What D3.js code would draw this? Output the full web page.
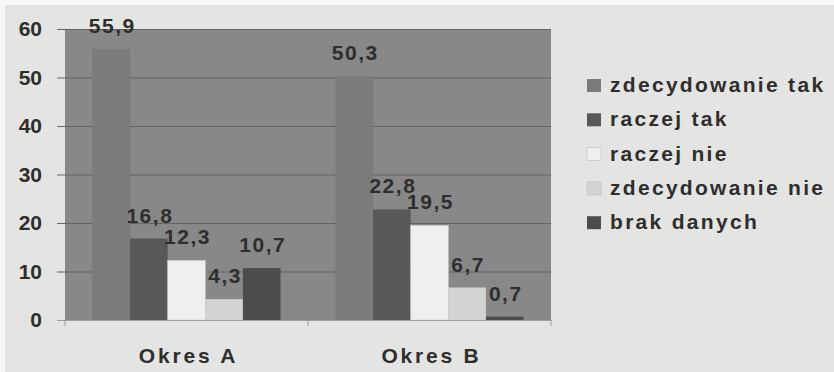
<!DOCTYPE html>
<html>
<head>
<meta charset="utf-8">
<script src="https://cdn.jsdelivr.net/npm/d3@7"></script>
<style>
  html, body { margin: 0; padding: 0; background: #f7f7f5; }
  svg { display: block; }
  text { font-family: "Liberation Sans", Arial, sans-serif; font-weight: bold; fill: #2e2e2e; }
</style>
</head>
<body>
<svg id="chart" width="834" height="372"></svg>
<script>
// Survey answers per period (percent)
const periods = ["Okres A", "Okres B"];
const answers = ["zdecydowanie tak", "raczej tak", "raczej nie", "zdecydowanie nie", "brak danych"];
const valuesA = [55.9, 16.8, 12.3, 4.3, 10.7];
const valuesB = [50.3, 22.8, 19.5, 6.7, 0.7];
const valueLabelsA = ["55,9", "16,8", "12,3", "4,3", "10,7"];
const valueLabelsB = ["50,3", "22,8", "19,5", "6,7", "0,7"];
const yTicks = [0, 10, 20, 30, 40, 50, 60];

const answerColors = ["#7b7b7b", "#585858", "#efefed", "#d3d3d1", "#4c4c4c"];

const rows = periods.map((p, i) => ({
  period: p,
  values: (i === 0 ? valuesA : valuesB).map((v, j) => ({
    answer: answers[j],
    value: v,
    label: (i === 0 ? valueLabelsA : valueLabelsB)[j]
  }))
}));

const svg = d3.select("#chart");
const plot = { left: 65, right: 551, top: 29, bottom: 320 };

// Paper tone behind the chart
svg.append("rect").attr("x", 5).attr("y", 5).attr("width", 829).attr("height", 367)
  .attr("fill", "#e4e4e2");

const x0 = d3.scaleBand().domain(periods).range([plot.left, plot.right]).padding(0);
const x1 = d3.scaleBand().domain(answers).range([0, x0.bandwidth()])
  .paddingInner(0).paddingOuter(0.73);
const y = d3.scaleLinear().domain([0, 60]).range([plot.bottom, plot.top]);
const color = d3.scaleOrdinal().domain(answers).range(answerColors);

// Plot background
svg.append("rect")
  .attr("x", plot.left).attr("y", plot.top)
  .attr("width", plot.right - plot.left).attr("height", plot.bottom - plot.top)
  .attr("fill", "#888888");

// Gridlines with short ticks to the left
const yAxis = d3.axisLeft(y).tickValues(yTicks)
  .tickSize(-(plot.right - plot.left)).tickFormat(d3.format("d"));
const gy = svg.append("g").attr("transform", `translate(${plot.left},0)`).call(yAxis);
gy.select(".domain").remove();
gy.selectAll(".tick line")
  .attr("x1", -8)
  .attr("stroke", d => d === 0 ? "#9a9a9a" : "#646464")
  .attr("stroke-width", 1);
gy.selectAll(".tick text")
  .attr("x", -23)
  .attr("font-size", 21).attr("letter-spacing", 0)
  .style("font-family", "'Liberation Sans', Arial, sans-serif").style("font-weight", "bold")
  .attr("fill", "#2e2e2e");

// Bars
const groups = svg.append("g").selectAll("g").data(rows).join("g")
  .attr("transform", d => `translate(${x0(d.period)},0)`);

groups.selectAll("rect").data(d => d.values).join("rect")
  .attr("x", d => x1(d.answer))
  .attr("y", d => y(d.value))
  .attr("width", x1.bandwidth())
  .attr("height", d => y(0) - y(d.value))
  .attr("fill", d => color(d.answer))
  .attr("stroke", d => d.answer === "raczej nie" ? "#c8c8c8" : "none")
  .attr("stroke-width", 0.6);

groups.selectAll("text").data(d => d.values).join("text")
  .attr("x", d => x1(d.answer) + x1.bandwidth() / 2 + 1)
  .attr("y", d => y(d.value) - 16)
  .attr("text-anchor", "middle")
  .attr("font-size", 21).attr("letter-spacing", 1.5)
  .text(d => d.label);

// Category axis
const xAxis = d3.axisBottom(x0).tickSize(0).tickPadding(0);
const gx = svg.append("g").attr("transform", `translate(0,${plot.bottom})`).call(xAxis);
gx.select(".domain").attr("stroke", "#a0a0a0");
gx.selectAll(".tick text")
  .attr("y", 43).attr("dy", 0).attr("dx", 2)
  .attr("font-size", 21).attr("letter-spacing", 2.8)
  .style("font-family", "'Liberation Sans', Arial, sans-serif").style("font-weight", "bold")
  .attr("fill", "#2e2e2e");

// Ticks between categories
const edges = [plot.left, ...periods.map(p => x0(p) + x0.bandwidth())];
svg.append("g").selectAll("line").data(edges).join("line")
  .attr("x1", d => d).attr("x2", d => d)
  .attr("y1", plot.bottom).attr("y2", plot.bottom + 6)
  .attr("stroke", "#9a9a9a");

// Legend
const legend = svg.append("g").attr("transform", "translate(587,79)");
const items = legend.selectAll("g").data(answers).join("g")
  .attr("transform", (d, i) => `translate(0,${i * 34.3})`);
items.append("rect")
  .attr("width", 14).attr("height", 13)
  .attr("fill", d => color(d))
  .attr("stroke", d => d === "raczej nie" || d === "zdecydowanie nie" ? "#bdbdbd" : "none")
  .attr("stroke-width", 0.6);
items.append("text")
  .attr("x", 23).attr("y", 13)
  .attr("font-size", 21).attr("letter-spacing", 2.3)
  .text(d => d);
</script>
</body>
</html>
